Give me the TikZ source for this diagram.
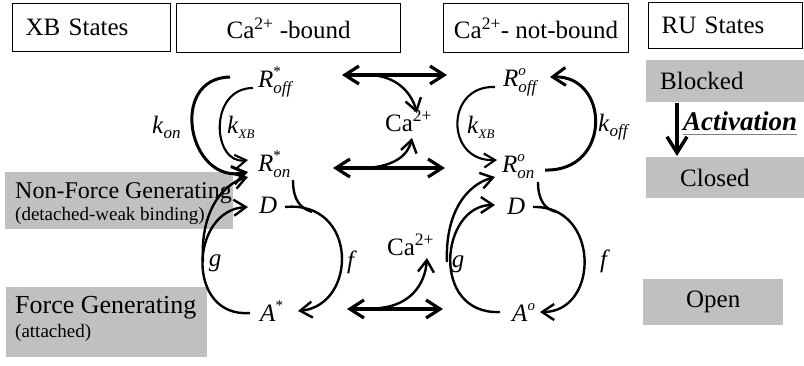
\documentclass[tikz,border=0pt]{standalone}
\usepackage{fontspec}
\setmainfont{Liberation Serif}
\usetikzlibrary{arrows.meta}
\definecolor{boxgray}{RGB}{192,192,192}
\newcommand\stt[3]{\textit{#1}\rlap{\raisebox{11pt}{\fontsize{15}{15}\selectfont #2}}\raisebox{-6pt}{\fontsize{17}{17}\selectfont\textit{#3}}}
\newcommand\kk[2]{\textit{k}\raisebox{-5pt}{\fontsize{#2}{#2}\selectfont\textit{#1}}}
\tikzset{
  hdr/.style={draw=black, line width=1.2pt, inner sep=0pt, anchor=north west, font=\fontsize{25}{30}\selectfont},
  gbox/.style={fill=boxgray, draw=none, inner sep=0pt, anchor=north west, font=\fontsize{25}{30}\selectfont},
  state/.style={anchor=base west, inner sep=0pt, font=\fontsize{25}{28}\selectfont},
  lab/.style={inner sep=0pt, font=\fontsize{25}{28}\selectfont},
  thk/.style={line width=3pt, -{Straight Barb[length=13pt,width=18pt]}},
  med/.style={line width=2.4pt, -{Straight Barb[length=12pt,width=16pt]}},
  thn/.style={line width=2.1pt, -{Straight Barb[length=11pt,width=14pt]}},
  plain/.style={line width=2.4pt},
  dbl/.style={line width=3.2pt, {Straight Barb[length=14pt,width=18pt]}-{Straight Barb[length=14pt,width=18pt]}},
}
\begin{document}
\begin{tikzpicture}[x=1pt,y=-1pt]
\useasboundingbox (0,0) rectangle (804,365);
% headers
\node[hdr, minimum width=158pt, minimum height=48pt, text width=132pt, inner xsep=13pt, align=left] (xb) at (12,3) {XB States};
\node[hdr, minimum width=224pt, minimum height=49pt] (cab) at (176,3) {Ca\textsuperscript{2+} -bound};
\node[hdr, minimum width=185pt, minimum height=49pt] (canb) at (443,3) {Ca\textsuperscript{2+}- not-bound};
\node[hdr, minimum width=154pt, minimum height=46pt, text width=128pt, inner xsep=13pt, align=left] (rus) at (648,2) {RU States};
% RU states
\node[gbox, minimum width=158pt, minimum height=42pt, text width=130pt, inner xsep=14pt, align=left] (blk) at (646,60) {Blocked};
\node[gbox, minimum width=158pt, minimum height=41pt, text width=90pt, inner xsep=34pt, align=left] (cls) at (646,157) {Closed};
\node[gbox, minimum width=140pt, minimum height=46pt] (opn) at (643,279) {Open};
\coordinate (act1) at (677,103);
\coordinate (act2) at (677,156);
\draw[line width=3.5pt, -{Straight Barb[length=16pt,width=20pt]}] (act1) -- (act2);
\node[anchor=base west, inner sep=0pt, font=\fontsize{27}{30}\selectfont\bfseries\itshape] (actl) at (683,130) {Activation};
\draw[gray, line width=1pt] ([yshift=-4pt]actl.base west) -- ([yshift=-4pt]actl.base east);
% XB state boxes
\node[gbox, minimum width=228pt, minimum height=57pt] (nfg) at (5,172) {};
\node[anchor=base west, inner sep=0pt, font=\fontsize{24}{26}\selectfont] (nfgt) at (15,198) {Non-Force Generating};
\node[anchor=base west, inner sep=0pt, font=\fontsize{19}{20}\selectfont] (nfgs) at (15,220) {(detached-weak binding)};
\node[gbox, minimum width=201pt, minimum height=70pt] (fg) at (6,287) {};
\node[anchor=base west, inner sep=0pt, font=\fontsize{26}{28}\selectfont] (fgt) at (15,313) {Force Generating};
\node[anchor=base west, inner sep=0pt, font=\fontsize{19}{22}\selectfont] (fgs) at (15,337) {(attached)};
% states left
\node[state] (Rso) at (258,87) {\stt{R}{*}{off}};
\node[state] (Rsn) at (258,171) {\stt{R}{*}{on}};
\node[state] (Dl) at (259,213) {\textit{D}};
\node[state] (As) at (260,321) {\stt{A}{*}{}};
% states right
\node[state] (Roo) at (503,86) {\stt{R}{\textit{o}}{off}};
\node[state] (Ron) at (502,172) {\stt{R}{\textit{o}}{on}};
\node[state] (Dr) at (507,214) {\textit{D}};
\node[state] (Ao) at (512,321) {\stt{A}{\textit{o}}{}};
% Ca nodes
\node[anchor=base west, inner sep=0pt, font=\fontsize{25}{28}\selectfont] (ca1) at (385,131) {Ca\textsuperscript{2+}};
\node[anchor=base west, inner sep=0pt, font=\fontsize{25}{28}\selectfont] (ca2) at (387,255) {Ca\textsuperscript{2+}};
% rate labels
\node[lab, anchor=base west] (kon) at (152,133) {\kk{on}{17}};
\node[lab, anchor=base west] (kxl) at (227,133) {\kk{XB}{13}};
\node[lab] (gl) at (215,263) {\textit{g}};
\node[lab] (fl) at (352,262) {\textit{f}};
\node[lab, anchor=base west] (kxr) at (467,133) {\kk{XB}{13}};
\node[lab, anchor=base west] (koff) at (598,131) {\kk{off}{17}};
\node[lab] (gr) at (458,264) {\textit{g}};
\node[lab] (fr) at (605,261) {\textit{f}};
% endpoints left
\coordinate (a1) at (230,77);  \coordinate (a1t) at (248,172);
\coordinate (b1) at (253,88);  \coordinate (b1t) at (248,160);
\coordinate (g1) at (250,313); \coordinate (g1t) at (248,207);
\coordinate (g1m) at (203,262); \coordinate (g1u) at (248,177);
\coordinate (f1) at (285,207); \coordinate (f1t) at (298,311);
\coordinate (f1s) at (293,180); \coordinate (f1j) at (312,212);
% left cycle
\draw[thk] (a1) .. controls (168,78) and (188,185) .. (a1t);
\draw[thn] (b1) .. controls (208,88) and (212,165) .. (b1t);
\draw[med] (g1) .. controls (185,318) and (190,210) .. (g1t);
\draw[med] (g1m) .. controls (200,215) and (220,185) .. (g1u);
\draw[med] (f1) .. controls (358,200) and (358,305) .. (f1t);
\draw[plain] (f1s) .. controls (293,200) and (300,208) .. (f1j);
% endpoints right
\coordinate (b2) at (495,87);  \coordinate (b2t) at (497,160);
\coordinate (k2) at (545,170); \coordinate (k2t) at (550,77);
\coordinate (g2) at (500,312); \coordinate (g2t) at (495,205);
\coordinate (g2m) at (447,262); \coordinate (g2u) at (495,177);
\coordinate (f2) at (533,207); \coordinate (f2t) at (540,312);
\coordinate (f2s) at (538,182); \coordinate (f2j) at (557,212);
% right cycle
\draw[thn] (b2) .. controls (445,85) and (445,162) .. (b2t);
\draw[thk] (k2) .. controls (612,172) and (610,75) .. (k2t);
\draw[med] (g2) .. controls (430,315) and (440,205) .. (g2t);
\draw[med] (g2m) .. controls (445,215) and (465,185) .. (g2u);
\draw[med] (f2) .. controls (600,205) and (600,312) .. (f2t);
\draw[plain] (f2s) .. controls (538,200) and (545,210) .. (f2j);
% middle exchanges
\coordinate (m1l) at (342,75); \coordinate (m1r) at (447,75);
\coordinate (m1s) at (373,75); \coordinate (m1t) at (417,113);
\coordinate (m2l) at (333,168); \coordinate (m2r) at (445,168);
\coordinate (m2s) at (367,168); \coordinate (m2t) at (412,138);
\coordinate (m3l) at (347,309); \coordinate (m3r) at (443,309);
\coordinate (m3s) at (380,308); \coordinate (m3t) at (427,258);
\draw[dbl] (m1l) -- (m1r);
\draw[dbl] (m2l) -- (m2r);
\draw[dbl] (m3l) -- (m3r);
\draw[med] (m1s) .. controls (400,78) and (412,95) .. (m1t);
\draw[med] (m2s) .. controls (395,166) and (408,155) .. (m2t);
\draw[med] (m3s) .. controls (410,305) and (425,285) .. (m3t);
\end{tikzpicture}
\end{document}
